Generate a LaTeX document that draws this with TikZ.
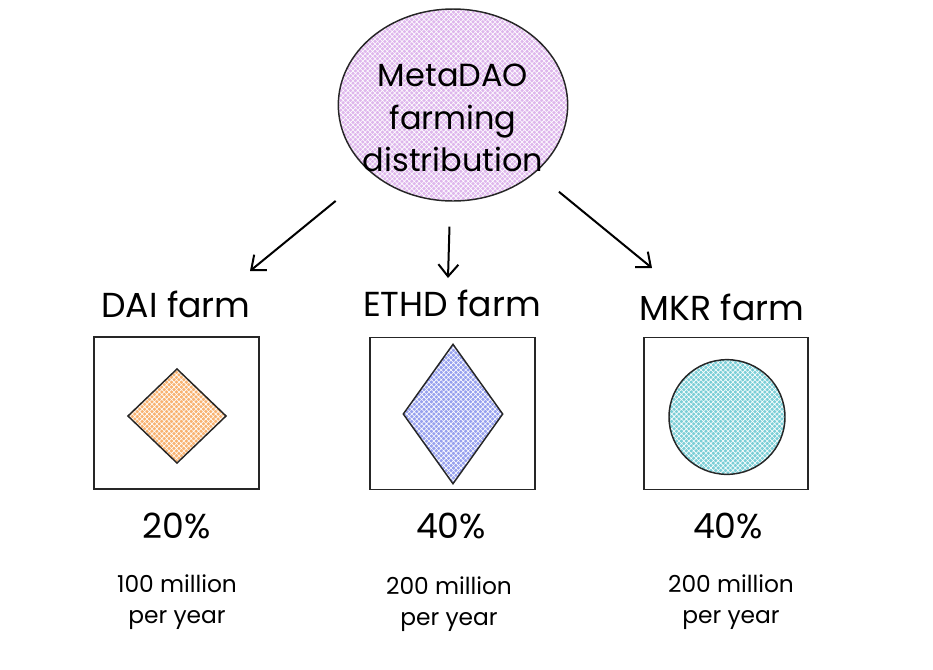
\documentclass[tikz,border=0pt]{standalone}
\usepackage{fontspec}
\setmainfont{Poppins}
\usetikzlibrary{positioning, shapes.geometric, arrows.meta, patterns.meta}

\definecolor{bubbleFill}{RGB}{222,182,236}
\definecolor{daiFill}{RGB}{248,178,112}
\definecolor{ethdFill}{RGB}{150,160,238}
\definecolor{mkrFill}{RGB}{122,206,214}

\begin{document}
\begin{tikzpicture}[
  x=0.75pt, y=-0.75pt,
  every node/.style={align=center, inner sep=0pt},
  hatch/.style={draw=black!85, line width=1.1pt, preaction={fill=#1},
    pattern={Hatch[angle=45, distance=2.6pt, line width=0.45pt]}, pattern color=white},
  bubble/.style={ellipse, hatch=bubbleFill, minimum width=172pt, minimum height=144pt},
  farmbox/.style={rectangle, draw=black!85, line width=1.3pt, minimum width=123.5pt, minimum height=114pt},
  heading/.style={font=\fontsize{24}{32}\selectfont},
  farmtitle/.style={font=\fontsize{26}{30}\selectfont, anchor=base},
  pct/.style={font=\fontsize{26}{30}\selectfont, anchor=base},
  amount/.style={font=\fontsize{17.5}{23}\selectfont},
  link/.style={-{Straight Barb[length=9pt, width=15pt]}, line width=1.5pt}
]

\useasboundingbox (0,0) rectangle (933,669);

% Distribution bubble
\node[bubble] (dist) at (453,105) {};
\node[heading] (distText) at (453,118) {MetaDAO\\farming\\distribution};

% Arrows
\coordinate (daiTip) at (250,271);
\coordinate (ethdTip) at (448,278);
\coordinate (mkrTip) at (652,268);
\draw[link, shorten <=34pt] (dist) -- (daiTip);
\draw[link, shorten <=19pt] (dist) -- (ethdTip);
\draw[link, shorten <=23pt] (dist) -- (mkrTip);

% DAI farm
\node[farmtitle] (daiTitle) at (176,317) {DAI farm};
\node[farmbox] (daiBox) at (176.5,413) {};
\node[diamond, hatch=daiFill, minimum width=74pt, minimum height=71pt] (daiGem) at (177,416) {};
\node[pct] (daiPct) at (177,538) {20\%};
\node[amount] (daiAmt) at (177,602) {100 million\\per year};

% ETHD farm
\node[farmtitle] (ethdTitle) at (452,316) {ETHD farm};
\node[farmbox] (ethdBox) at (452.5,413.5) {};
\node[diamond, hatch=ethdFill, minimum width=75pt, minimum height=105pt] (ethdGem) at (453,414) {};
\node[pct] (ethdPct) at (451,538) {40\%};
\node[amount] (ethdAmt) at (449,604) {200 million\\per year};

% MKR farm
\node[farmtitle] (mkrTitle) at (722,320) {MKR farm};
\node[farmbox] (mkrBox) at (726,413.5) {};
\node[ellipse, hatch=mkrFill, minimum width=87pt, minimum height=86pt] (mkrCoin) at (727,417) {};
\node[pct] (mkrPct) at (728,538) {40\%};
\node[amount] (mkrAmt) at (731,602) {200 million\\per year};

\end{tikzpicture}
\end{document}
